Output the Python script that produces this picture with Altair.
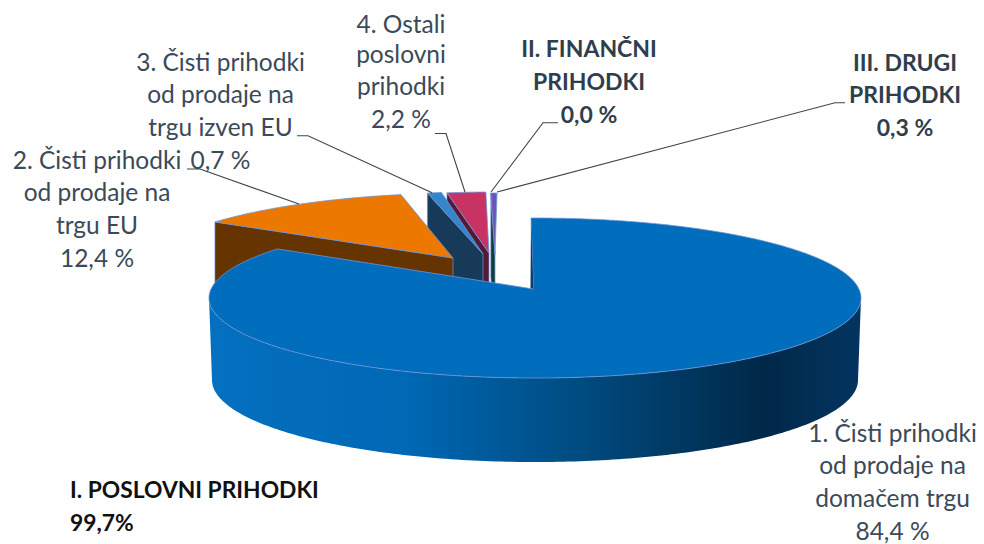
import math
import altair as alt
import pandas as pd

slices = ["1. domači trg", "2. trg EU", "3. izven EU", "4. ostali", "II. finančni", "III. drugi"]
shares = [84.4, 12.4, 0.7, 2.2, 0.0, 0.3]
top_colors = ["#006DBD", "#ED7800", "#3385CC", "#C73363", "#0F4A44", "#6A55B8"]
wall_colors = ["#0B3D6B", "#663400", "#173A58", "#571833", "#0F3F3A", "#0F3F3A"]

# Exploded-pie layout: rim centre and wedge tip per slice, small corrections for 3D perspective
rx, ry, depth = 326, 80, 84
centers = [(535, 298), (466, 273), (492.5, 271.5), (494, 272), (497, 273), (497, 273)]
tips = [(533.5, 289), (453, 258), (483, 254), (489, 253), (494, 255), (495, 255)]
warp_start = [-0.7, 5.8, 0, 0.7, 0, 0]
warp_end = [4.0, 0, 0, -0.35, 0, 0]

wall_stops = [(0, "#0570C0"), (0.3, "#0068B5"), (0.57, "#004B80"), (0.85, "#002848"), (1, "#033560")]
edge = "#6F94D8"
ink = "#3A4A59"
ink_bold = "#2F3E4C"
line_step = 32.7

labels = [
    (["1. Čisti prihodki", "od prodaje na", "domačem trgu", "84,4 %"], 892.5, 441.7),
    (["2. Čisti prihodki", "od prodaje na", "trgu EU", "12,4 %"], 97, 168.5),
    (["3. Čisti prihodki", "od prodaje na", "trgu izven EU", "0,7 %"], 220.5, 70.7),
    (["4. Ostali"], 401, 32.5),
    (["poslovni", "prihodki", "2,2 %"], 401, 62.7),
]
bold_labels = [
    (["II. FINANČNI", "PRIHODKI", "0,0 %"], 589, 57.3),
    (["III. DRUGI", "PRIHODKI", "0,3 %"], 905, 70.7),
]
total_label = (["I. POSLOVNI PRIHODKI", "99,7%"], 70, 498)
leaders = [
    [(187, 169), (200, 169), (299, 204)],
    [(297, 135.7), (308, 135.7), (432, 192.7)],
    [(435, 133.5), (446, 133.5), (465, 192)],
    [(558, 122.7), (543, 122.7), (491, 192)],
    [(845, 102.7), (835, 102.7), (497, 192)],
]

x_scale = alt.Scale(domain=[8, 976], nice=False, zero=False)
y_scale = alt.Scale(domain=[544, 8], nice=False, zero=False)


def rim(center, deg, radx=rx, rady=ry):
    a = math.radians(deg)
    return (center[0] + radx * math.sin(a), center[1] - rady * math.cos(a))


def shape(points, fill=None, stroke=None, width=0.0):
    df = pd.DataFrame(points, columns=["x", "y"])
    df["i"] = range(len(df))
    kw = {"strokeWidth": width, "stroke": stroke if stroke else "transparent"}
    if fill is not None:
        kw["fill"] = fill
    return alt.Chart(df).mark_line(clip=False, **kw).encode(
        x=alt.X("x:Q", scale=x_scale, axis=None),
        y=alt.Y("y:Q", scale=y_scale, axis=None),
        order=alt.Order("i:Q"),
    )


def bounds(k):
    start = sum(shares[:k]) * 3.6 + warp_start[k]
    end = sum(shares[: k + 1]) * 3.6 + warp_end[k]
    return start, end


def top(k):
    s, e = bounds(k)
    n = max(2, int((e - s) * 2))
    pts = [tips[k]] + [rim(centers[k], s + (e - s) * j / n) for j in range(n + 1)]
    pts.append(tips[k])
    return shape(pts, top_colors[k], edge, 0.8)


def wall(k, deg):
    a = rim(centers[k], deg)
    t = tips[k]
    pts = [a, t, (t[0], t[1] + depth), (a[0], a[1] + depth), a]
    return shape(pts, wall_colors[k], edge, 0.7)


layers = []
# III. drugi and II. finančni (back right)
layers.append(wall(5, bounds(5)[0]))
layers.append(top(5))
# 4. ostali
layers.append(wall(3, bounds(3)[0]))
layers.append(top(3))
# 3. izven EU
layers.append(wall(2, bounds(2)[0]))
layers.append(top(2))
# 2. trg EU
layers.append(wall(1, bounds(1)[0]))
layers.append(top(1))

# 1. domači trg: outer wall with horizontal shading, inner wall sliver, then top surface
c0 = centers[0]
c0b = (535, 380)
lower = [rim(c0, d) for d in range(270, 89, -1)]
lower_b = [rim(c0b, d, 323, 82) for d in range(90, 271)]
gradient = alt.Gradient(
    gradient="linear", x1=0, x2=1, y1=0, y2=0,
    stops=[alt.GradientStop(offset=o, color=c) for o, c in wall_stops],
)
layers.append(shape(lower + lower_b + lower[:1], gradient))
layers.append(top(0))
s0 = rim(c0, bounds(0)[0])
layers.append(shape([s0, tips[0], (tips[0][0] - 3, tips[0][1] - 1), s0], wall_colors[0]))

for pts in leaders:
    layers.append(shape(pts, None, "#3A4550", 1.1))


def text_layer(groups, color, bold=False, align="center", size=24.5):
    rows = []
    for lines, x0, y0 in groups:
        for j, line in enumerate(lines):
            rows.append({"t": line, "x": x0, "y": y0 + j * line_step})
    df = pd.DataFrame(rows)
    return alt.Chart(df).mark_text(
        font="Lato", fontSize=size, fontWeight="bold" if bold else "normal",
        color=color, align=align, baseline="alphabetic",
    ).encode(
        x=alt.X("x:Q", scale=x_scale, axis=None),
        y=alt.Y("y:Q", scale=y_scale, axis=None),
        text="t:N",
    )


layers.append(text_layer(labels, ink))
layers.append(text_layer(bold_labels, ink_bold, bold=True, size=23))
layers.append(text_layer([total_label], "#111111", bold=True, align="left", size=22.8))

chart = alt.layer(*layers).properties(
    width=968, height=536, padding=0,
    autosize=alt.AutoSizeParams(type="none"), background="white",
).configure_view(stroke=None)

chart.save("out.html", embed_options={"renderer": "svg", "actions": False})
